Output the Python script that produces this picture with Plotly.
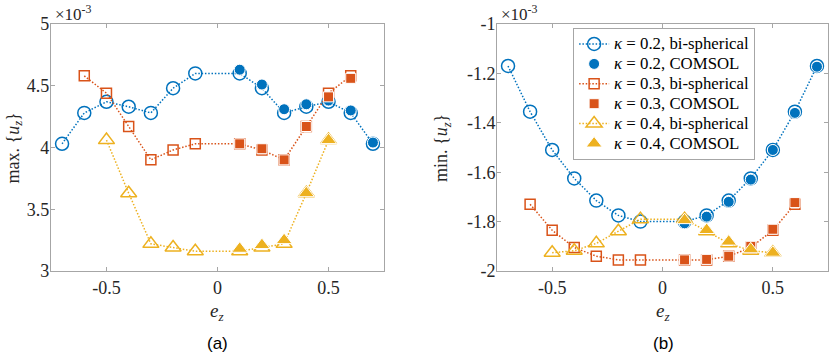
import plotly.graph_objects as go

# e_z positions
ez_bi = {
    0.2: [-0.7, -0.6, -0.5, -0.4, -0.3, -0.2, -0.1, 0.1, 0.2, 0.3, 0.4, 0.5, 0.6, 0.7],
    0.3: [-0.6, -0.5, -0.4, -0.3, -0.2, -0.1, 0.1, 0.2, 0.3, 0.4, 0.5, 0.6],
    0.4: [-0.5, -0.4, -0.3, -0.2, -0.1, 0.1, 0.2, 0.3, 0.4, 0.5],
}
ez_com = {
    0.2: [0.1, 0.2, 0.3, 0.4, 0.5, 0.6, 0.7],
    0.3: [0.1, 0.2, 0.3, 0.4, 0.5, 0.6],
    0.4: [0.1, 0.2, 0.3, 0.4, 0.5],
}

# (a) max u_z  (x 1e-3)
max_bi = {
    0.2: [4.03, 4.28, 4.37, 4.33, 4.28, 4.48, 4.60, 4.60, 4.48, 4.28, 4.33, 4.37, 4.28, 4.03],
    0.3: [4.58, 4.44, 4.17, 3.90, 3.98, 4.03, 4.03, 3.98, 3.90, 4.17, 4.44, 4.58],
    0.4: [4.06, 3.63, 3.22, 3.19, 3.16, 3.16, 3.19, 3.22, 3.63, 4.06],
}
max_com = {
    0.2: [4.63, 4.51, 4.31, 4.35, 4.38, 4.30, 4.04],
    0.3: [4.03, 3.99, 3.90, 4.17, 4.41, 4.56],
    0.4: [3.18, 3.21, 3.25, 3.63, 4.06],
}

# (b) min u_z  (x 1e-3)
min_bi = {
    0.2: [-1.17, -1.355, -1.51, -1.625, -1.715, -1.775, -1.80, -1.80, -1.775, -1.715, -1.625, -1.51, -1.355, -1.17],
    0.3: [-1.73, -1.835, -1.905, -1.94, -1.955, -1.955, -1.955, -1.955, -1.94, -1.905, -1.835, -1.73],
    0.4: [-1.926, -1.918, -1.888, -1.839, -1.79, -1.79, -1.839, -1.888, -1.918, -1.926],
}
min_com = {
    0.2: [-1.807, -1.78, -1.72, -1.63, -1.51, -1.36, -1.173],
    0.3: [-1.955, -1.953, -1.94, -1.90, -1.831, -1.723],
    0.4: [-1.794, -1.834, -1.881, -1.912, -1.926],
}

kappas = [0.2, 0.3, 0.4]
colors = {0.2: '#0072BD', 0.3: '#D95319', 0.4: '#EDB120'}
open_sym = {0.2: 'circle-open', 0.3: 'square-open', 0.4: 'triangle-up-open'}
fill_sym = {0.2: 'circle', 0.3: 'square', 0.4: 'triangle-up'}
open_size = {0.2: 13, 0.3: 10, 0.4: 14}
fill_size = {0.2: 11, 0.3: 10, 0.4: 14}

xticks = [-0.5, 0, 0.5]
xtick_text = ['-0.5', '0', '0.5']
yticks_a = [3, 3.5, 4, 4.5, 5]
ytick_text_a = ['3', '3.5', '4', '4.5', '5']
yticks_b = [-2, -1.8, -1.6, -1.4, -1.2, -1]
ytick_text_b = ['-2', '-1.8', '-1.6', '-1.4', '-1.2', '-1']

FONT = '"Liberation Serif", "DejaVu Serif", serif'
DOT = '1.5px,1.8px'
LEG = '<span style="font-size:16.8px">%s</span>'

fig = go.Figure()

for k in kappas:
    c = colors[k]
    for xa, ya, bi, com, show in [('x', 'y', max_bi, max_com, False), ('x2', 'y2', min_bi, min_com, True)]:
        fig.add_trace(go.Scatter(
            x=ez_bi[k], y=bi[k], xaxis=xa, yaxis=ya,
            mode='lines+markers',
            line=dict(color=c, width=1.5, dash=DOT),
            marker=dict(symbol=open_sym[k], size=open_size[k], color=c, line=dict(width=1.5, color=c)),
            name=LEG % ('<i>κ</i> = %.1f, bi-spherical' % k),
            legendgroup='bi%s' % k, showlegend=show,
        ))
        fig.add_trace(go.Scatter(
            x=ez_com[k], y=com[k], xaxis=xa, yaxis=ya,
            mode='markers',
            marker=dict(symbol=fill_sym[k], size=fill_size[k], color=c, line=dict(width=1, color='white')),
            name=LEG % ('<i>κ</i> = %.1f, COMSOL' % k),
            legendgroup='com%s' % k, showlegend=show,
        ))

axis_common = dict(
    showgrid=False, zeroline=False, showline=True, linecolor='#a6a6a6', linewidth=1,
    mirror='ticks', ticks='inside', ticklen=4, tickcolor='#a6a6a6',
    tickfont=dict(family=FONT, size=18, color='#262626'), automargin=False,
)

fig.update_layout(
    width=830, height=355,
    margin=dict(l=0, r=0, t=0, b=0, pad=0, autoexpand=False),
    paper_bgcolor='white', plot_bgcolor='white',
    font=dict(family=FONT, color='#262626'),
    xaxis=dict(domain=[0.0614, 0.4627], range=[-0.75, 0.75], tickvals=xticks, ticktext=xtick_text, anchor='y', **axis_common),
    yaxis=dict(domain=[0.2366, 0.9324], range=[3, 5], tickvals=yticks_a, ticktext=ytick_text_a, anchor='x',
               ticklabelstandoff=-3, **axis_common),
    xaxis2=dict(domain=[0.5988, 0.9976], range=[-0.75, 0.75], tickvals=xticks, ticktext=xtick_text, anchor='y2', **axis_common),
    yaxis2=dict(domain=[0.2366, 0.9324], range=[-2, -1], tickvals=yticks_b, ticktext=ytick_text_b, anchor='x2',
                ticklabelstandoff=-3, **axis_common),
    legend=dict(
        x=0.6905, y=0.921, xanchor='left', yanchor='top',
        bgcolor='white', bordercolor='#a6a6a6', borderwidth=1,
        font=dict(family=FONT, size=13, color='black'),
        tracegroupgap=0, itemwidth=30,
    ),
)

ann = [
    dict(x=217 / 830, y=1 - 312 / 355, text='<i>e<sub>z</sub></i>', font=dict(size=19)),
    dict(x=663 / 830, y=1 - 312 / 355, text='<i>e<sub>z</sub></i>', font=dict(size=19)),
    dict(x=217 / 830, y=1 - 343 / 355, text='(a)', font=dict(family='"Liberation Sans", Arial, sans-serif', size=17, color='black')),
    dict(x=663 / 830, y=1 - 343 / 355, text='(b)', font=dict(family='"Liberation Sans", Arial, sans-serif', size=17, color='black')),
    dict(x=0, y=1 - 148 / 355, text='max. {<i>u<sub>z</sub></i>}', textangle=-90, xanchor='left', font=dict(size=18)),
    dict(x=442 / 830, y=1 - 148 / 355, text='min. {<i>u<sub>z</sub></i>}', textangle=-90, font=dict(size=18)),
    dict(x=53 / 830, y=1, text='×10<sup>-3</sup>', xanchor='left', yanchor='top', font=dict(size=17)),
    dict(x=499 / 830, y=1, text='×10<sup>-3</sup>', xanchor='left', yanchor='top', font=dict(size=17)),
]
for a in ann:
    a.setdefault('xanchor', 'center')
    a.setdefault('yanchor', 'middle')
    a['xref'] = 'paper'
    a['yref'] = 'paper'
    a['showarrow'] = False
    a['font'].setdefault('family', FONT)
    a['font'].setdefault('color', '#262626')
    fig.add_annotation(**a)

# the page's default body margin would shift the 830x355 figure out of the window
fig.write_html("out.html", config={'displayModeBar': False},
               post_script="document.body.style.margin = '0';")
